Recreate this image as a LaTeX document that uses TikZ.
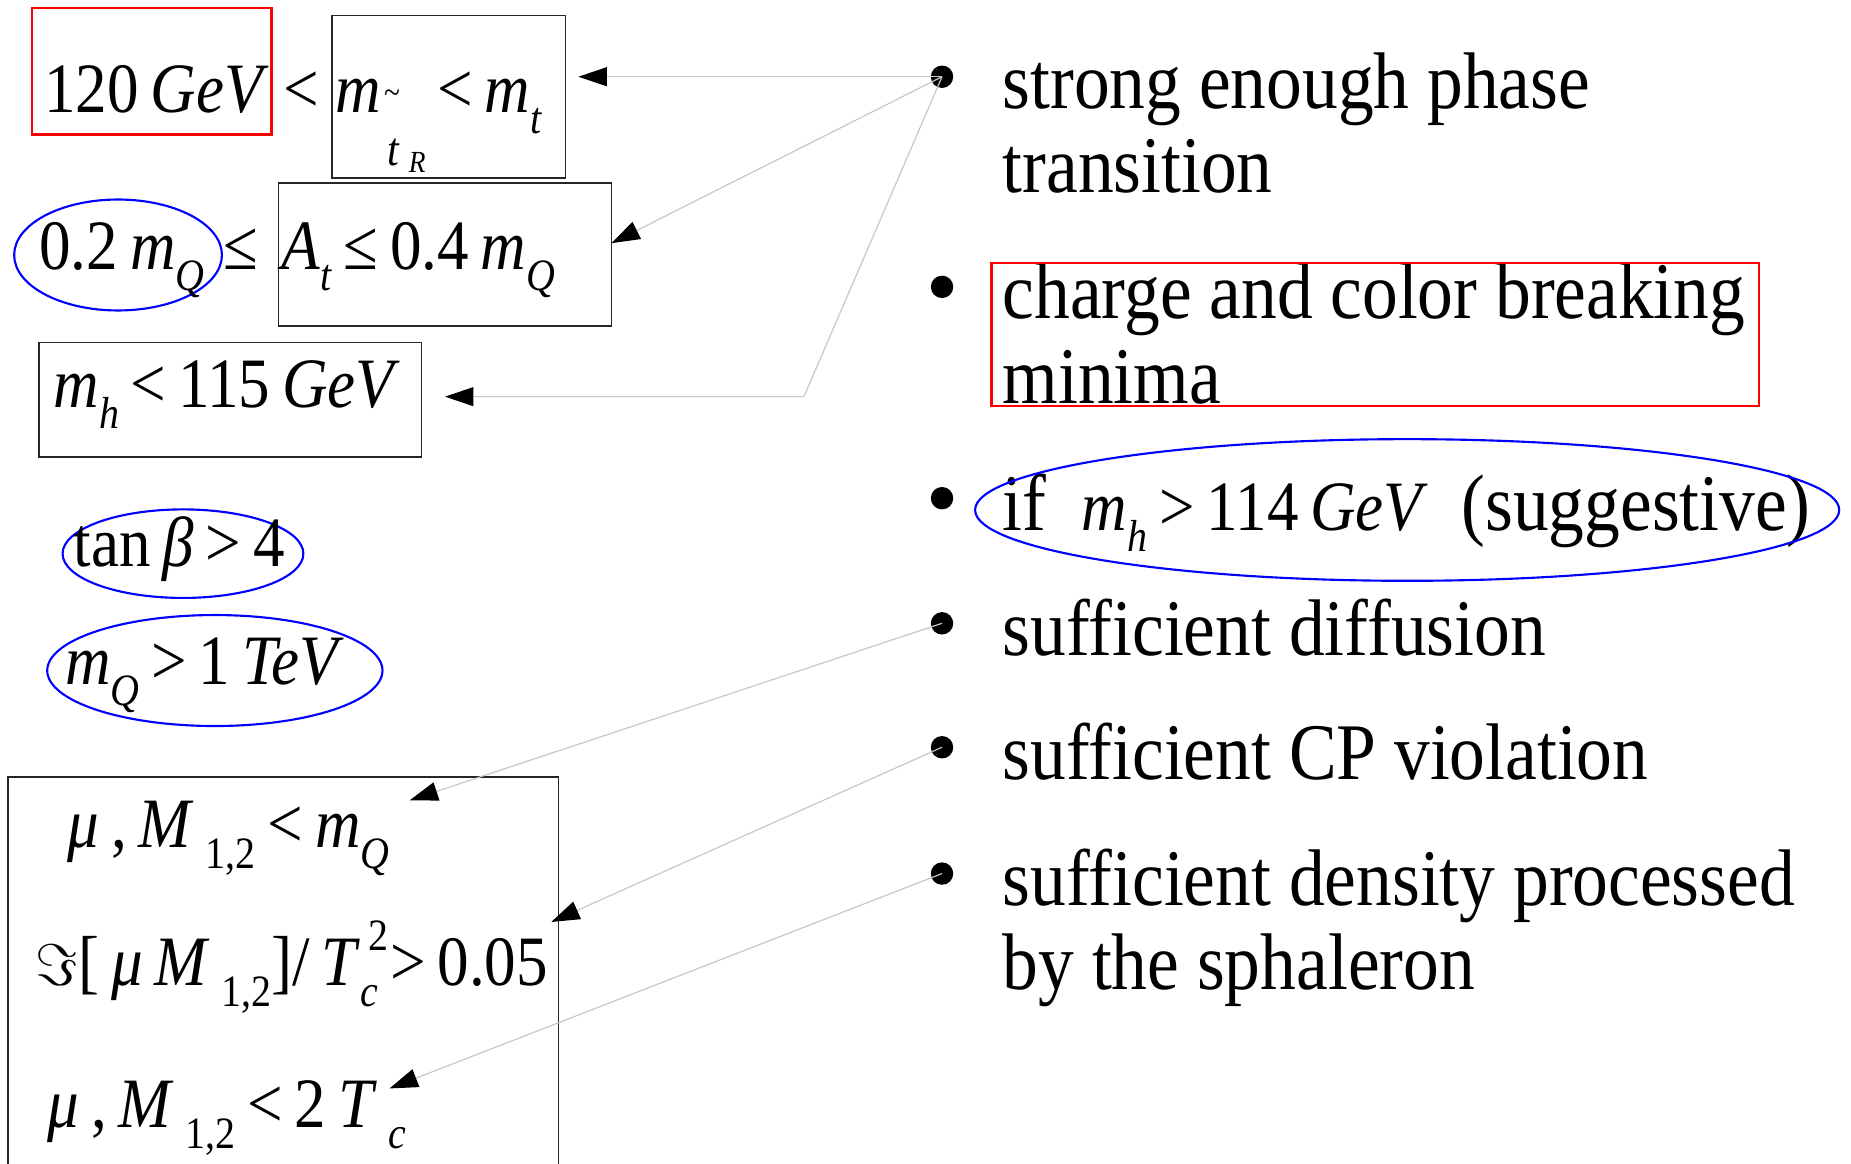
\documentclass[tikz,border=0pt]{standalone}
\usepackage{fontspec}
\setmainfont{Liberation Serif}[FakeStretch=0.89]
\usetikzlibrary{arrows.meta,shapes.geometric}

\newcommand{\mt}[1]{\textit{#1}}
\newcommand{\sub}[1]{\raisebox{-0.3em}{\fontsize{19}{19}\selectfont #1}}
\newcommand{\subsup}[2]{\rlap{\raisebox{0.5em}{\fontsize{19}{19}\selectfont\,#2}}\raisebox{-0.3em}{\fontsize{19}{19}\selectfont #1}}

\tikzset{
 bul/.style={circle, fill=black, inner sep=0pt, minimum size=9.5pt},
 btxt/.style={anchor=base west, inner sep=0pt, font=\fontsize{34}{35.5}\selectfont},
 mtxt/.style={anchor=base west, inner sep=0pt, font=\fontsize{30}{30}\selectfont},
 blackbox/.style={rectangle, draw=black!85, line width=0.7pt, inner sep=0pt},
 redbox/.style={rectangle, draw=red, line width=1pt, inner sep=0pt},
 blueell/.style={ellipse, draw=blue, line width=0.9pt, inner sep=0pt},
 conn/.style={draw=black!22, line width=0.5pt, -{Triangle[length=12pt,width=8pt,color=black]}},
}

\begin{document}
\begin{tikzpicture}[x=0.5pt,y=-0.5pt]
\useasboundingbox (0,0) rectangle (1568,986);

% ---------- right column ----------
\node[bul] (b1) at (798,65) {};
\node[bul] (b2) at (798,243) {};
\node[bul] (b3) at (798,422) {};
\node[bul] (b4) at (798,528) {};
\node[bul] (b5) at (798,633) {};
\node[bul] (b6) at (798,740) {};

\node[btxt] (t1a) at (849,92) {strong enough phase};
\node[btxt] (t1b) at (849,163) {transition};
\node[btxt] (t2a) at (849,270) {charge and color breaking};
\node[btxt] (t2b) at (849,342) {minima};
\node[btxt] (t3) at (849,449) {if\hspace{15pt}{\fontsize{30}{30}\selectfont\mt{m}\sub{\mt{h}}\,>\,114\,\mt{GeV}}\hspace{14pt}(suggestive)};
\node[btxt] (t4) at (849,555) {sufficient diffusion};
\node[btxt] (t5) at (849,660) {sufficient CP violation};
\node[btxt] (t6a) at (849,767) {sufficient density processed};
\node[btxt] (t6b) at (849,838) {by the sphaleron};

\node[redbox, minimum width=325pt, minimum height=60.5pt] (r2) at (1165,283.5) {};
\node[blueell, minimum width=366pt, minimum height=60pt] (e3) at (1192,432) {};

% ---------- left column ----------
\node[redbox, minimum width=101.5pt, minimum height=53.5pt] (r1) at (128.5,60.5) {};
\node[mtxt] (l1) at (37,95) {120\,\mt{GeV}};
\node[mtxt] (lt1) at (240,95) {<};
\node[blackbox, minimum width=99pt, minimum height=69pt] (bx1) at (380,82) {};
\node[mtxt] (l1m) at (284,95) {\mt{m}};
\node[mtxt, font=\fontsize{14}{14}\selectfont] (l1tl) at (325,88) {\textasciitilde};
\node[mtxt, font=\fontsize{20}{20}\selectfont] (l1t) at (328,140) {\mt{t}};
\node[mtxt, font=\fontsize{13}{13}\selectfont] (l1r) at (346,146) {\mt{R}};
\node[mtxt] (l1b) at (370,95) {<\,\mt{m}\sub{\mt{t}}};

\node[blueell, minimum width=88pt, minimum height=47pt] (e2) at (100,216) {};
\node[mtxt] (l2a) at (33,228) {0.2\,\mt{m}\sub{\mt{Q}}};
\node[mtxt] (l2le) at (189,228) {≤};
\node[blackbox, minimum width=141pt, minimum height=60.5pt] (bx2) at (377,215.5) {};
\node[mtxt] (l2b) at (238,228) {\mt{A}\sub{\mt{t}}\,≤\,0.4\,\mt{m}\sub{\mt{Q}}};

\node[blackbox, minimum width=162pt, minimum height=48.5pt] (bx3) at (195,338.5) {};
\node[mtxt] (l3) at (45,345) {\mt{m}\sub{\mt{h}}\,<\,115\,\mt{GeV}};

\node[blueell, minimum width=102pt, minimum height=37.5pt] (e4) at (155,469) {};
\node[mtxt] (l4) at (62,480) {tan\,\mt{β}\,>\,4};

\node[blueell, minimum width=142pt, minimum height=47pt] (e5) at (182,568) {};
\node[mtxt] (l5) at (55,580) {\mt{m}\sub{\mt{Q}}\,>\,1\,\mt{TeV}};

\node[blackbox, minimum width=233pt, minimum height=168.5pt] (bx4) at (240,826.5) {};
\node[mtxt] (l6) at (57,718) {\mt{μ}\,,\,\mt{M}\,\sub{1,2}\,<\,\mt{m}\sub{\mt{Q}}};
\node[mtxt] (l7) at (30,835) {$\Im$[\,\mt{μ}\,\mt{M}\,\sub{1,2}]/\,\mt{T}\subsup{\mt{c}}{2}\,>\,0.05};
\node[mtxt] (l8) at (40,955) {\mt{μ}\,,\,\mt{M}\,\sub{1,2}\,<\,2\,\mt{T}\,\sub{\mt{c}}};

% ---------- connectors ----------
\coordinate (a1) at (490,65);
\coordinate (a2) at (518,206);
\coordinate (a3k) at (681,336);
\coordinate (a3) at (377,336);
\coordinate (a4) at (347,678);
\coordinate (a5) at (467,781);
\coordinate (a6) at (330,922);

\draw[conn] (b1.center) -- (a1);
\draw[conn] (b1.center) -- (a2);
\draw[conn] (b1.center) -- (a3k) -- (a3);
\draw[conn] (b4.center) -- (a4);
\draw[conn] (b5.center) -- (a5);
\draw[conn] (b6.center) -- (a6);
\end{tikzpicture}
\end{document}
